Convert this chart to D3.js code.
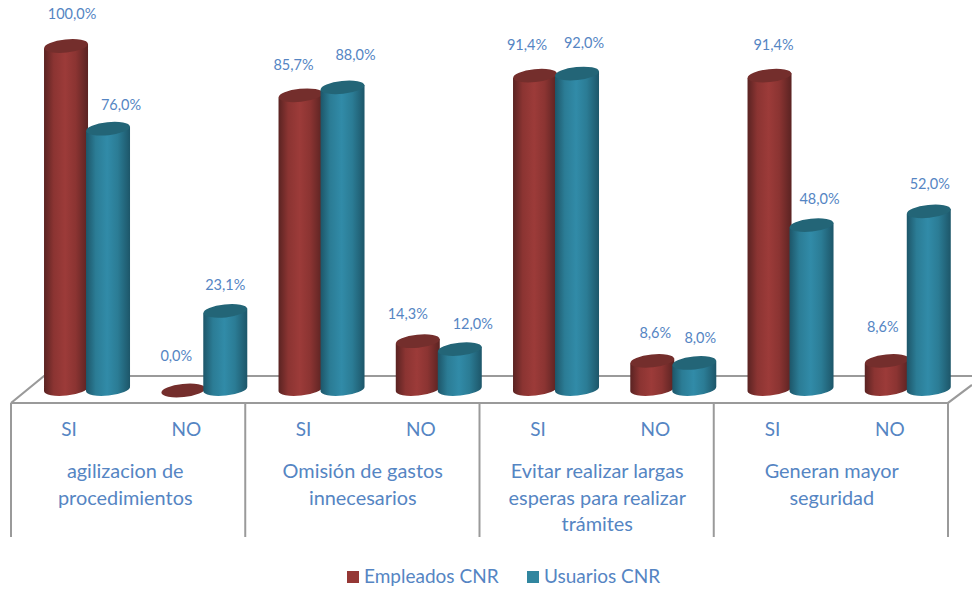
<!DOCTYPE html>
<html><head><meta charset="utf-8">
<style>html,body{margin:0;background:#fff}svg{display:block}text{font-family:Lato,"Open Sans",sans-serif;fill:#5585c3}</style>
<script src="https://cdn.jsdelivr.net/npm/d3@7"></script></head>
<body><svg id="c" width="972" height="590"></svg>
<script>
const groups = [["agilizacion de","procedimientos"],["Omisión de gastos","innecesarios"],["Evitar realizar largas","esperas para realizar","trámites"],["Generan mayor","seguridad"]];
const answers = ["SI","NO"];
const seriesNames = ["Empleados CNR","Usuarios CNR"];
const empleados = [100,0,85.7,14.3,91.4,8.6,91.4,8.6];
const usuarios = [76,23.1,88,12,92,8,48,52];
const labelNudgeEmp = [[6,-32],[-7,-35],[-7,-30],[-10,-27],[-8,-31],[3,-28],[4,-31],[-4,-34]];
const labelNudgeUsu = [[13,-24],[0,-26],[13,-32],[13,-25],[7,-31],[6,-25],[8,-26],[1,-27]];
const groupNudge = [-3,0,0,0];

const svg = d3.select("#c");
const y = d3.scaleLinear().domain([0,100]).range([390.5,46]);
const slots = d3.range(8);
const x = d3.scaleBand().domain(slots).range([11,949]);   // 8 answer slots
const barW = 44;
const rx = barW/2, ry = 6.5, tilt = -6;
const fmt = v => d3.format(".1f")(v).replace(".",",")+"%";
const grey = "#9a9a9a";

const defs = svg.append("defs");
[["g0","#5a2322","#9c3b39","#8b3432"],["g1","#1d5669","#318ba8","#2b7c95"]].forEach(([id,e,m,n])=>{
  const g = defs.append("linearGradient").attr("id",id);
  [[0,e],[.22,n],[.48,m],[.72,n],[1,e]].forEach(([o,c])=>g.append("stop").attr("offset",o).attr("stop-color",c));
});

// floor
const floorFront = 403, floorBack = 376, depth = 33;
const line = d3.line();
const x0 = x(0), x1 = x.range()[1];
svg.append("path").attr("d",line([[x0,floorFront],[x0+depth,floorBack],[972,floorBack]])).attr("fill","none").attr("stroke",grey).attr("stroke-width",2.2);
svg.append("path").attr("d",line([[x0,floorFront],[x1-1,floorFront],[972,385]])).attr("fill","none").attr("stroke",grey).attr("stroke-width",2.2);
d3.range(5).forEach(i=>{
  const px = x0 + i*2*x.bandwidth() - (i/4);
  svg.append("line").attr("x1",px).attr("x2",px).attr("y1",floorFront).attr("y2",537).attr("stroke",grey).attr("stroke-width",2);
});

// cylinders
const barX = (i,s) => x(i)+ x.bandwidth()/2 - 3.6 + s*42;
function cyl(v,i,s){
  const cx = barX(i,s), top = y(v), base = y(0)-1.5;
  const a = tilt*Math.PI/180, dy = rx*Math.sin(a);
  if(v>0){
    svg.append("path").attr("fill",`url(#g${s})`)
      .attr("d",`M${cx-rx},${top-dy} L${cx-rx},${base-dy} A${rx},${ry} ${tilt} 0 0 ${cx+rx},${base+dy} L${cx+rx},${top+dy} Z`);
  }
  svg.append("ellipse").attr("cx",cx).attr("cy",top).attr("rx",rx).attr("ry",ry)
    .attr("transform",`rotate(${tilt} ${cx} ${top})`).attr("fill",s?"#236577":"#742e2c");
}
[empleados,usuarios].forEach((arr,s)=>arr.forEach((v,i)=>cyl(v,i,s)));

// labels
[[empleados,labelNudgeEmp],[usuarios,labelNudgeUsu]].forEach(([arr,n],s)=>arr.forEach((v,i)=>{
  svg.append("text").attr("x",barX(i,s)+n[i][0]).attr("y",y(v)+n[i][1]+5).attr("text-anchor","middle").attr("font-size",14.5).text(fmt(v));
}));

// axis labels
slots.forEach(i=>svg.append("text").attr("x",x(i)+x.bandwidth()/2-0.5).attr("y",436).attr("text-anchor","middle").attr("font-size",19).text(answers[i%2]));
groups.forEach((g,k)=>g.forEach((t,j)=>svg.append("text").attr("x",x(k*2)+x.bandwidth()+groupNudge[k]).attr("y",478+j*26.5).attr("text-anchor","middle").attr("font-size",19.9).text(t)));

// legend
[[347,364],[527,544]].forEach(([sq,tx],s)=>{
  svg.append("rect").attr("x",sq).attr("y",571).attr("width",12).attr("height",12).attr("fill",s?"#31869f":"#953735");
  svg.append("text").attr("x",tx).attr("y",583).attr("font-size",19).text(seriesNames[s]);
});
</script></body></html>
